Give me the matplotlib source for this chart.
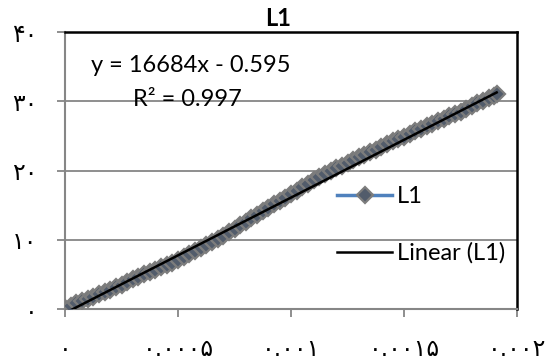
import matplotlib
matplotlib.use("Agg")
import matplotlib.pyplot as plt
from matplotlib.lines import Line2D

# strain / stress readings for series L1
strain = [0.0, 0.000025, 0.00005, 0.000075, 0.0001, 0.000125, 0.00015, 0.000175,
          0.0002, 0.000225, 0.00025, 0.000275, 0.0003, 0.000325, 0.00035, 0.000375,
          0.0004, 0.000425, 0.00045, 0.000475, 0.0005, 0.000525, 0.00055, 0.000575,
          0.0006, 0.000625, 0.00065, 0.000675, 0.0007, 0.000725, 0.00075, 0.000775,
          0.0008, 0.000825, 0.00085, 0.000875, 0.0009, 0.000925, 0.00095, 0.000975,
          0.001, 0.001025, 0.00105, 0.001075, 0.0011, 0.001125, 0.00115, 0.001175,
          0.0012, 0.001225, 0.00125, 0.001275, 0.0013, 0.001325, 0.00135, 0.001375,
          0.0014, 0.001425, 0.00145, 0.001475, 0.0015, 0.001525, 0.00155, 0.001575,
          0.0016, 0.001625, 0.00165, 0.001675, 0.0017, 0.001725, 0.00175, 0.001775,
          0.0018, 0.001825, 0.00185, 0.001875, 0.0019, 0.00191]
stress = [0.1, 0.4, 0.8, 1.1, 1.4, 1.8, 2.1, 2.5,
          2.8, 3.2, 3.5, 3.9, 4.3, 4.6, 5.0, 5.3,
          5.7, 6.0, 6.4, 6.7, 7.1, 7.5, 7.9, 8.4,
          8.8, 9.2, 9.7, 10.1, 10.6, 11.1, 11.6, 12.1,
          12.6, 13.1, 13.6, 14.1, 14.6, 15.1, 15.6, 16.1,
          16.6, 17.1, 17.6, 18.1, 18.6, 19.0, 19.5, 19.9,
          20.3, 20.7, 21.1, 21.5, 21.9, 22.3, 22.7, 23.0,
          23.4, 23.8, 24.2, 24.6, 24.9, 25.3, 25.7, 26.0,
          26.4, 26.7, 27.1, 27.4, 27.8, 28.2, 28.5, 28.9,
          29.3, 29.7, 30.0, 30.4, 30.8, 31.0]

# linear trendline
slope = 16684
intercept = -0.595
r2 = 0.997

x_ticks = [0, 0.0005, 0.001, 0.0015, 0.002]
x_labels = ['۰', '۰.۰۰۰۵', '۰.۰۰۱', '۰.۰۰۱۵', '۰.۰۰۲']
y_ticks = [0, 10, 20, 30, 40]
y_labels = ['۰', '۱۰', '۲۰', '۳۰', '۴۰']

grey = '#868686'
blue = '#4F81BD'
txt_font = 'Lato'
fs = 17

fig = plt.figure(figsize=(5.52, 3.62), dpi=100)
ax = fig.add_axes([65/552, 1 - 309/362, 452/552, 277/362])

marker_style = dict(marker='D', markersize=8, markerfacecolor='#525c6b',
                    markeredgecolor='#7d7d7d', markeredgewidth=1.6)
ax.plot(strain, stress, color=blue, lw=2.5, zorder=3, **marker_style)

x_fit = [strain[0], strain[-1]]
y_fit = [slope * v + intercept for v in x_fit]
ax.plot(x_fit, y_fit, color='black', lw=1.8, zorder=4)

ax.set_xlim(0, 0.002)
ax.set_ylim(0, 40)
ax.set_xticks(x_ticks)
ax.set_xticklabels(x_labels)
ax.set_yticks(y_ticks)
ax.set_yticklabels(y_labels)
ax.tick_params(axis='both', direction='out', length=6, width=1.3, color=grey,
               labelsize=fs, pad=14)
for lab in ax.get_xticklabels() + ax.get_yticklabels():
    lab.set_family('DejaVu Sans')

ax.grid(axis='y', color=grey, lw=1.3)
ax.set_axisbelow(True)
for side in ['left', 'bottom']:
    ax.spines[side].set_color(grey)
    ax.spines[side].set_linewidth(1.5)
for side in ['top', 'right']:
    ax.spines[side].set_color('black')
    ax.spines[side].set_linewidth(1.8)

fig.text(278/552, 1 - 19/362, 'L1', ha='center', va='center', fontsize=fs,
         fontweight='bold', family=txt_font)
fig.text(191/552, 1 - 65/362, 'y = 16684x - 0.595', ha='center', va='center',
         fontsize=fs, family=txt_font)
fig.text(187/552, 1 - 100/362, 'R² = ' + str(r2), ha='center', va='center',
         fontsize=fs, family=txt_font)

handles = [
    Line2D([], [], color=blue, lw=2.5, **marker_style),
    Line2D([], [], color='black', lw=1.8),
]
leg = ax.legend(handles, ['L1', 'Linear (L1)'], loc='center left',
                bbox_to_anchor=((337 - 65) / 452, (309 - 225) / 277),
                frameon=False, borderpad=0, borderaxespad=0, handlelength=2.35,
                handletextpad=0.2, labelspacing=1.5,
                prop={'family': txt_font, 'size': fs})

fig.savefig('out.png', dpi=100)
